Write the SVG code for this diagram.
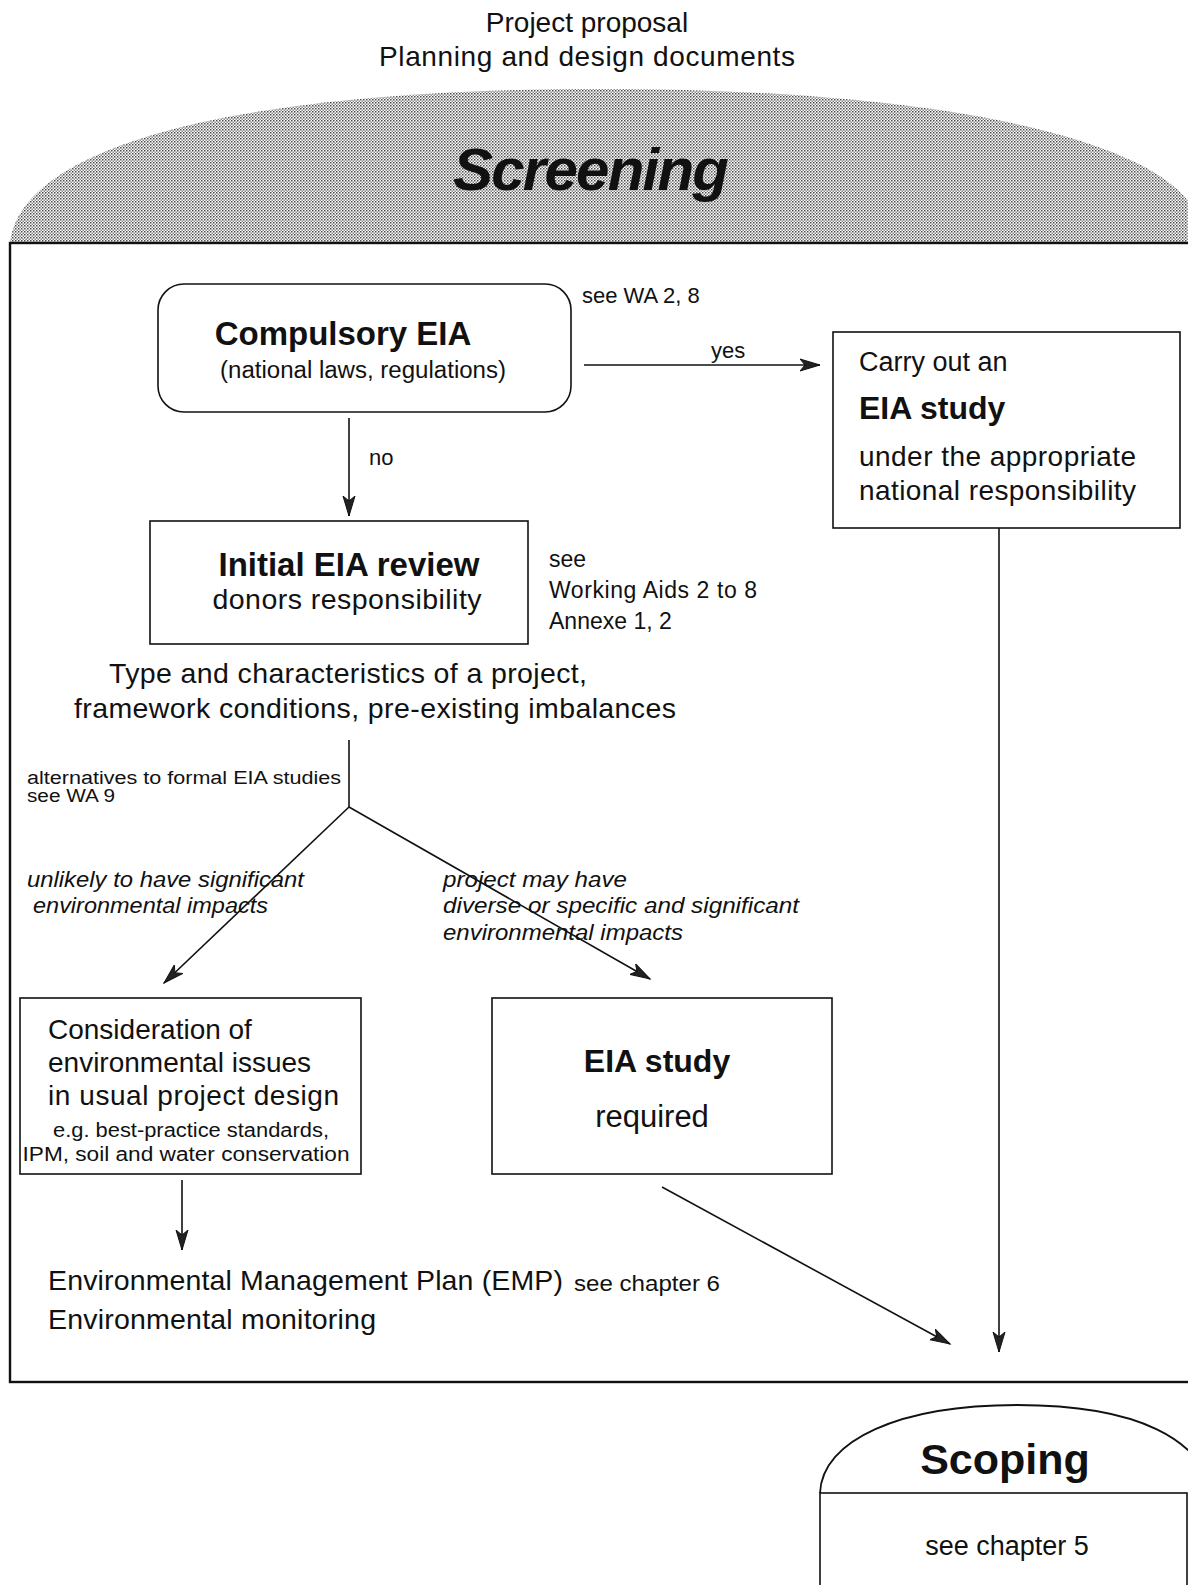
<svg xmlns="http://www.w3.org/2000/svg" width="1188" height="1585" viewBox="0 0 1188 1585">
  <defs>
    <pattern id="stipple" width="3" height="3" patternUnits="userSpaceOnUse">
      <rect x="0" y="0" width="1.5" height="1.5" fill="#4a4a4a"/>
      <rect x="1.5" y="1.5" width="1.5" height="1.5" fill="#8a8a8a"/>
    </pattern>
    <marker id="arrow" markerUnits="userSpaceOnUse" markerWidth="22" markerHeight="14" refX="20" refY="7" orient="auto">
      <path d="M0,1 L20,7 L0,13 L5,7 Z" fill="#222" stroke="#111" stroke-width="1"/>
    </marker>
    <style>
      text { font-family: "Liberation Sans", Arial, sans-serif; fill: #111; }
      .b { font-weight: bold; }
      .i { font-style: italic; }
      .box { fill: #fff; stroke: #111; stroke-width: 1.6; }
      .frame { fill: none; stroke: #111; stroke-width: 2.4; }
      .conn { fill: none; stroke: #111; stroke-width: 1.6; }
      .mid { text-anchor: middle; }
    </style>
  </defs>

  <rect width="1188" height="1585" fill="#fff"/>

  <!-- project inputs -->
  <g id="inputs">
    <text x="587" y="32" font-size="28" class="mid">Project proposal</text>
    <text x="587" y="66" font-size="28" class="mid" textLength="416">Planning and design documents</text>
  </g>

  <!-- Screening dome and frame -->
  <g id="screening">
    <path d="M10,243 C20,150 220,89 600,89 C980,89 1190,150 1200,228 L1200,243 Z" fill="url(#stipple)"/>
    <text x="591" y="190" font-size="60" class="b i mid" textLength="276">Screening</text>
    <rect x="10" y="243" width="1200" height="1139" class="frame"/>
  </g>

  <!-- Compulsory EIA -->
  <g id="compulsory">
    <rect x="158" y="284" width="413" height="128" rx="26" ry="26" class="box"/>
    <text x="343" y="345" font-size="33" class="b mid">Compulsory EIA</text>
    <text x="363" y="378" font-size="23" class="mid" textLength="286" lengthAdjust="spacingAndGlyphs">(national laws, regulations)</text>
    <text x="582" y="303" font-size="22">see WA 2, 8</text>
  </g>

  <!-- national EIA study -->
  <g id="national-study">
    <rect x="833" y="332" width="347" height="196" class="box"/>
    <text x="859" y="371" font-size="27">Carry out an</text>
    <text x="859" y="419" font-size="32" class="b">EIA study</text>
    <text x="859" y="466" font-size="28" textLength="277">under the appropriate</text>
    <text x="859" y="500" font-size="28" textLength="277">national responsibility</text>
  </g>

  <!-- Initial EIA review -->
  <g id="initial-review">
    <rect x="150" y="521" width="378" height="123" class="box"/>
    <text x="349" y="576" font-size="33" class="b mid">Initial EIA review</text>
    <text x="347" y="609" font-size="28.5" class="mid" textLength="269">donors responsibility</text>
    <text x="549" y="567" font-size="23">see</text>
    <text x="549" y="598" font-size="23" textLength="208">Working Aids 2 to 8</text>
    <text x="549" y="629" font-size="23">Annexe 1, 2</text>
  </g>

  <!-- project characteristics -->
  <g id="characteristics">
    <text x="348" y="683" font-size="28.5" class="mid" textLength="478">Type and characteristics of a project,</text>
    <text x="375" y="718" font-size="28.5" class="mid" textLength="602">framework conditions, pre-existing imbalances</text>
    <text x="27" y="784" font-size="18" textLength="314" lengthAdjust="spacingAndGlyphs">alternatives to formal EIA studies</text>
    <text x="27" y="802" font-size="18" textLength="88" lengthAdjust="spacingAndGlyphs">see WA 9</text>
  </g>

  <!-- branch labels -->
  <g id="branch-labels">
    <text x="27" y="887" font-size="22" class="i" textLength="277" lengthAdjust="spacingAndGlyphs">unlikely to have significant</text>
    <text x="33" y="913" font-size="22" class="i" textLength="235" lengthAdjust="spacingAndGlyphs">environmental impacts</text>
    <text x="443" y="887" font-size="22" class="i" textLength="184" lengthAdjust="spacingAndGlyphs">project may have</text>
    <text x="443" y="913" font-size="22" class="i" textLength="356" lengthAdjust="spacingAndGlyphs">diverse or specific and significant</text>
    <text x="443" y="940" font-size="22" class="i" textLength="240" lengthAdjust="spacingAndGlyphs">environmental impacts</text>
  </g>

  <!-- Consideration of environmental issues -->
  <g id="consideration">
    <rect x="20" y="998" width="341" height="176" class="box"/>
    <text x="48" y="1039" font-size="28">Consideration of</text>
    <text x="48" y="1072" font-size="28">environmental issues</text>
    <text x="48" y="1105" font-size="28" textLength="291">in usual project design</text>
    <text x="191" y="1137" font-size="20" class="mid" textLength="276" lengthAdjust="spacingAndGlyphs">e.g. best-practice standards,</text>
    <text x="186" y="1161" font-size="20" class="mid" textLength="327" lengthAdjust="spacingAndGlyphs">IPM, soil and water conservation</text>
  </g>

  <!-- EIA study required -->
  <g id="study-required">
    <rect x="492" y="998" width="340" height="176" class="box"/>
    <text x="657" y="1072" font-size="32" class="b mid">EIA study</text>
    <text x="652" y="1127" font-size="31" class="mid">required</text>
  </g>

  <!-- EMP and monitoring -->
  <g id="emp">
    <text x="48" y="1290" font-size="28.5" textLength="515">Environmental Management Plan (EMP)</text>
    <text x="574" y="1291" font-size="22" textLength="146" lengthAdjust="spacingAndGlyphs">see chapter 6</text>
    <text x="48" y="1329" font-size="28.5" textLength="328">Environmental monitoring</text>
  </g>

  <!-- Scoping -->
  <g id="scoping">
    <path d="M820,1493 C822,1440 900,1405 1017,1405 C1140,1405 1200,1440 1214,1493" fill="#fff" stroke="#111" stroke-width="1.8"/>
    <text x="1005" y="1474" font-size="43" class="b mid">Scoping</text>
    <rect x="820" y="1493" width="367" height="120" class="box" stroke-width="2"/>
    <text x="1007" y="1555" font-size="27" class="mid">see chapter 5</text>
  </g>

  <!-- connectors -->
  <g id="connectors">
    <line x1="584" y1="365" x2="820" y2="365" class="conn" marker-end="url(#arrow)"/>
    <text x="711" y="358" font-size="22">yes</text>
    <line x1="349" y1="418" x2="349" y2="516" class="conn" marker-end="url(#arrow)"/>
    <text x="369" y="465" font-size="22">no</text>
    <line x1="999" y1="528" x2="999" y2="1352" class="conn" marker-end="url(#arrow)"/>
    <polyline points="349,740 349,807" class="conn"/>
    <line x1="349" y1="807" x2="164" y2="983" class="conn" marker-end="url(#arrow)"/>
    <line x1="349" y1="807" x2="650" y2="979" class="conn" marker-end="url(#arrow)"/>
    <line x1="182" y1="1180" x2="182" y2="1250" class="conn" marker-end="url(#arrow)"/>
    <line x1="662" y1="1187" x2="950" y2="1344" class="conn" marker-end="url(#arrow)"/>
  </g>
</svg>
